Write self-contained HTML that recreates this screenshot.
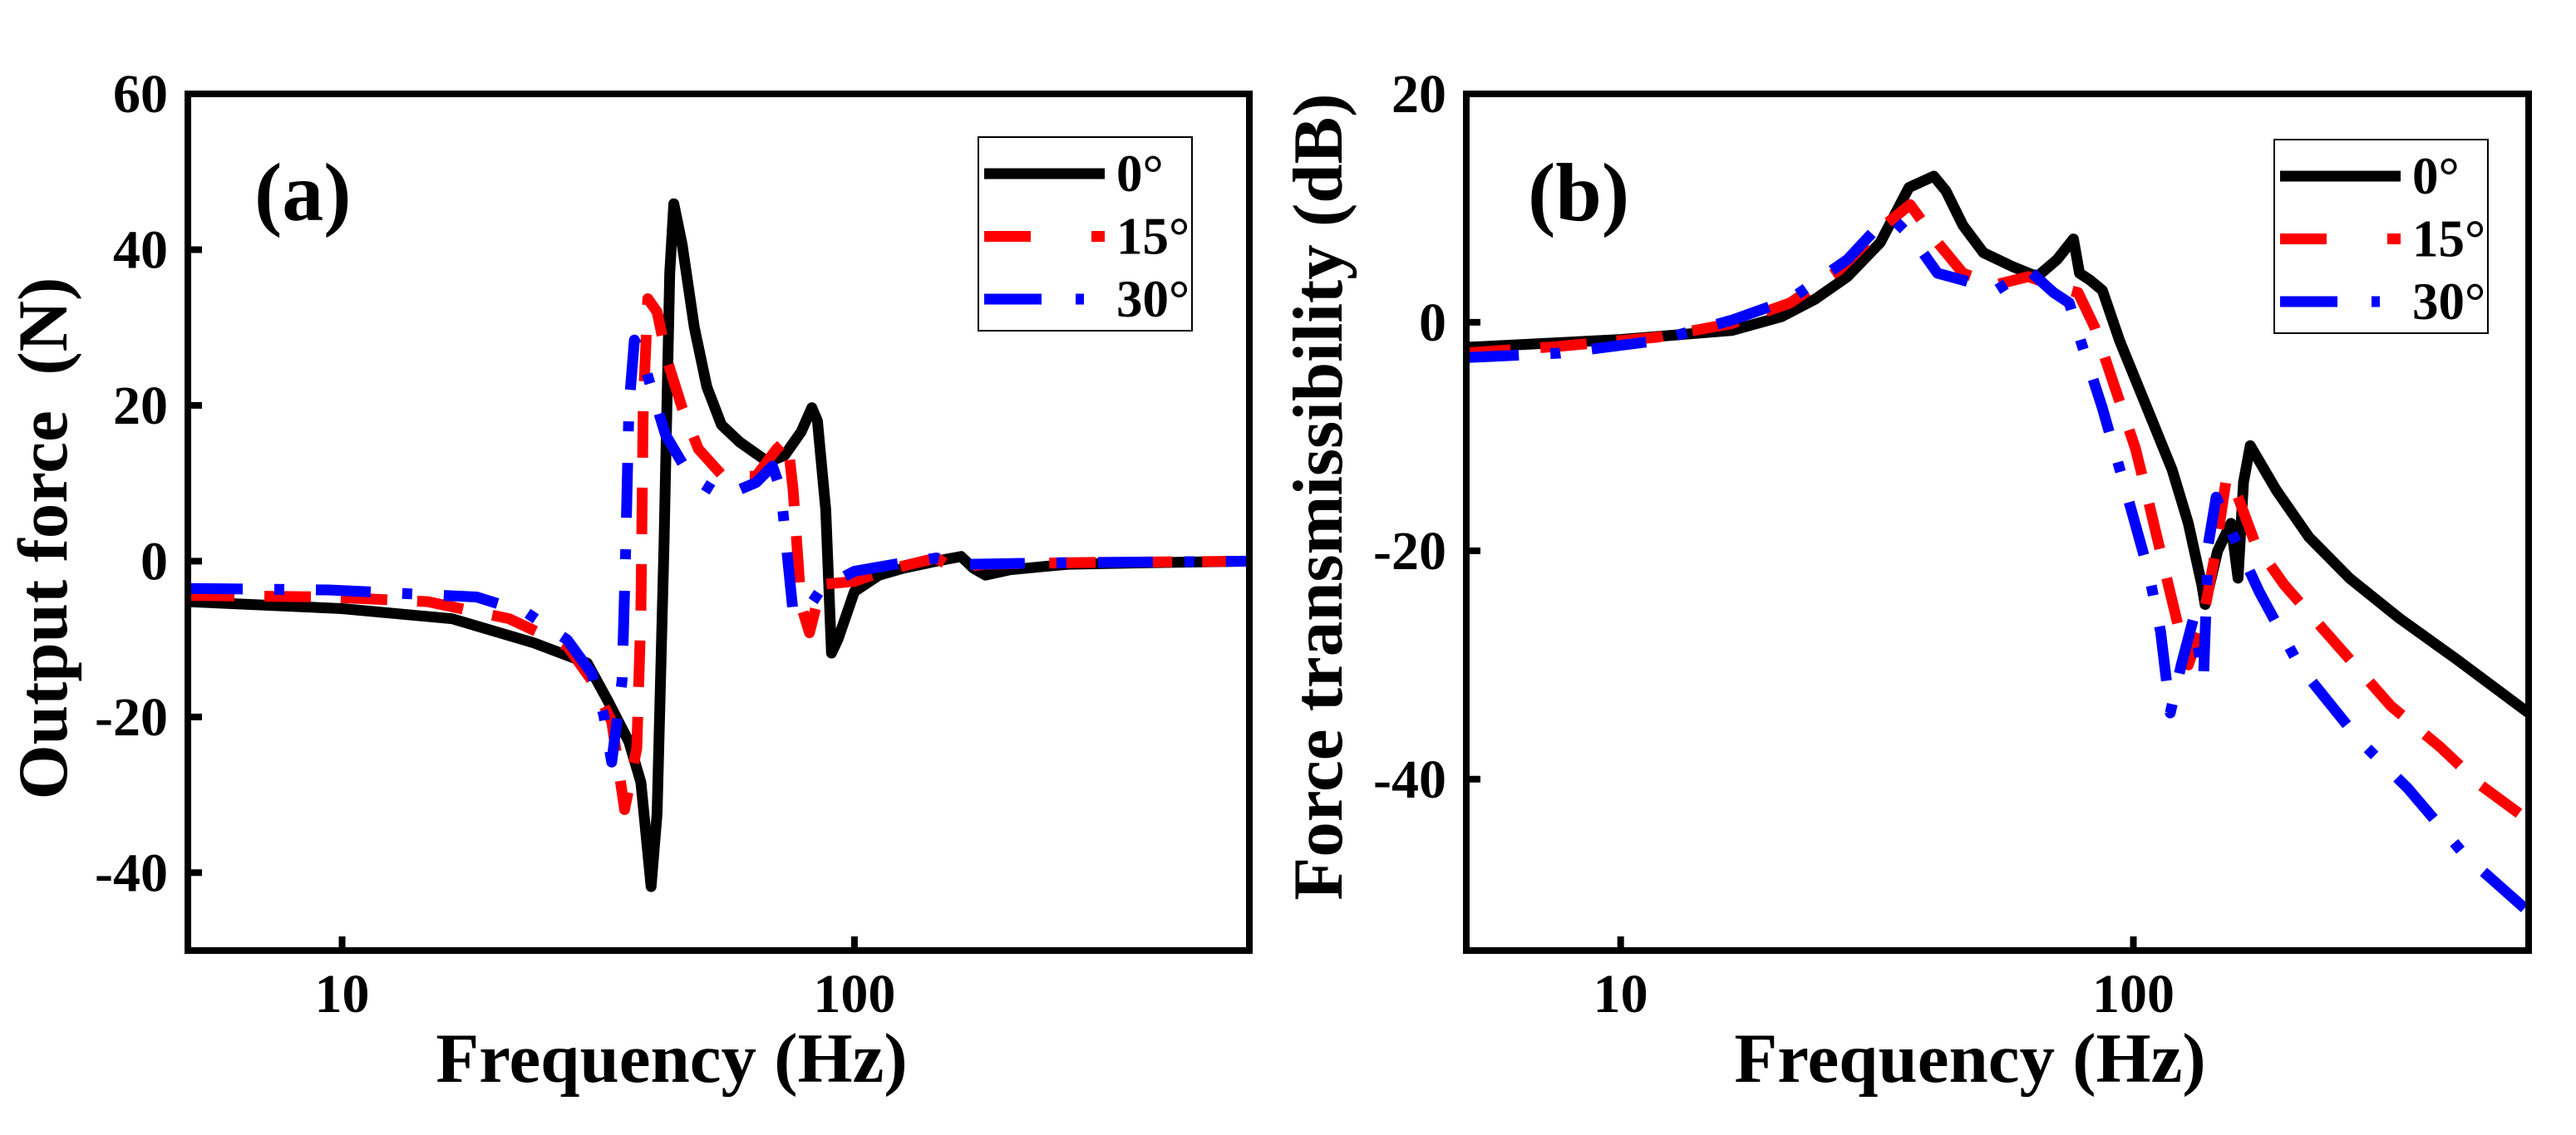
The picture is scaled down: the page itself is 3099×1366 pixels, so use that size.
<!DOCTYPE html>
<html><head><meta charset="utf-8"><style>
html,body{margin:0;padding:0;background:#fff;}
svg{display:block;}
text{font-family:"Liberation Serif","Times New Roman",serif;font-weight:bold;fill:#000;white-space:pre;}
</style></head><body>
<svg id="fig" width="3099" height="1366" viewBox="0 0 3099 1366" xmlns="http://www.w3.org/2000/svg">
<g id="panelA"></g>
<g id="panelB"></g>
</svg>
<script>
// Panel (a) data: frequency (Hz) / output force (N)
const a0F=[5,10,16.4,23.7,30.1,33,36.3,38.3,40.1,41.2,42.5,43.6,44.4,46.1,48.7,51.5,55,59.7,67.9,73.1,78.7,82.6,84.7,87.9,90.2,92.9,100,111.7,124.8,144.6,161.5,170.7,180.3,201.4,261,377,590];
const a0V=[-5.2,-6.1,-7.4,-10.5,-13.1,-17.9,-23.2,-28.4,-41.8,-32.4,2,37,45.9,40.7,30,22.4,17.5,15.3,12.7,13.6,16.6,19.7,18,6.6,-11.8,-10,-3.9,-1.8,-0.9,0,0.6,-0.9,-1.8,-1.1,-0.4,-0.2,0];
const a15F=[5,9.4,14.7,21.2,27.5,30.7,33.6,35.6,37.6,38.3,38.7,39.5,41.2,43.1,46.1,49.6,55.4,64.3,70.5,74,75.9,78.7,81.7,86.3,100,115.8,144.6,155.6,180.3,261,590];
const a15V=[-4.4,-4.6,-5.2,-7.4,-10.9,-15.3,-20.6,-31.9,-24,-6.6,19.7,33.7,32,25.8,19.7,14.4,10.9,10.9,14.4,15.7,9.2,-5.7,-9.2,-3,-2.6,-1.1,0.4,-0.9,-0.4,-0.2,0];
const a30F=[5,9.4,18.3,22.9,27.5,30.7,32.4,33.6,35.2,35.8,36.3,37.2,38.3,40.5,42.8,47.8,55.4,64.3,69.2,71.8,73.6,75.9,80.2,86.3,100,124.8,144.6,167.5,261,590];
const a30V=[-3.5,-3.7,-4.6,-6.6,-10.1,-14.4,-19.7,-25.8,-15.3,2.2,19.7,28.4,26.7,21.4,16.2,10.9,8.3,10.1,12.2,9.2,2.2,-6.6,-6.6,-3.5,-1.3,-0.2,0.4,-0.4,-0.2,0];
// Panel (b) data: frequency (Hz) / transmissibility (dB)
const b0F=[4.95,10,16.5,20.6,23.9,27.7,32.1,36.5,40.8,43.1,46.5,51,58,64.9,71,76.4,78.5,82.3,87,94,105,119,128,136,138,146,155,160,164,169,190,220,264,330,427,590];
const b0V=[-2.2,-1.5,-0.7,0.5,2,4,7,11.8,12.8,11.5,8.5,6.1,4.9,4,5.5,7.3,4.3,3.7,2.8,-1.6,-6.9,-12.9,-17.6,-23,-24.7,-20,-17.6,-22.4,-14,-10.8,-14.7,-18.8,-22.4,-25.9,-29.5,-34.2];
const b15F=[4.95,7.6,11.8,16.5,21.4,26.7,32.1,36.7,41.5,46.5,54,62.4,71,78,84,90.3,101,108,117,124,128,136,144,152,160,173,197,237,318,397,475,590];
const b15V=[-2.7,-2.1,-1.3,-0.1,1.7,4.6,8.2,10.3,7,4.3,3.3,4,3.1,2.6,-0.4,-4.6,-11.1,-16.4,-23,-27.7,-30,-26.5,-20.6,-13.5,-15.3,-19.4,-23,-27.1,-33.6,-37.2,-40.5,-43.6];
const b30F=[4.95,7.6,11.8,16.5,21.4,27.7,31.5,33.9,37.2,41.5,46.5,54,62.4,69.9,75,78.9,87,97.5,107,113,118,124,131,137,140,145,157,176,211,276,343,444,590];
const b30V=[-3.1,-2.7,-1.6,0.2,2,5.5,8.2,9.1,7.3,4.3,3.7,2.8,4.6,2.6,1.7,-1.6,-7.5,-15.3,-21.8,-27.1,-34.2,-30,-25.9,-31.3,-19.4,-15.3,-18.8,-23.6,-30.1,-36.6,-40.8,-46.7,-51.6];
const aTicks=[60,40,20,0,-20,-40];
const bTicks=[20,0,-20,-40];
const xTicks=[10,100];
const legendLabels=['0°','15°','30°'];

const NS='http://www.w3.org/2000/svg';
function mk(parent,tag,attrs,txt){const e=document.createElementNS(NS,tag);for(const k in attrs)e.setAttribute(k,attrs[k]);if(txt!==undefined)e.textContent=txt;parent.appendChild(e);return e;}
const styles=[{stroke:'#000',dash:'none'},{stroke:'#ff0000',dash:'56 36'},{stroke:'#0000ff',dash:'66 38 12 38'}];

function panel(g,cfg){
  const L=cfg.L,R=cfg.R,T=113,B=1144;
  const lx0=Math.log10(5),lx1=Math.log10(590);
  const X=f=>L+(Math.log10(f)-lx0)/(lx1-lx0)*(R-L);
  const Y=v=>T+(cfg.ymax-v)/(cfg.ymax-cfg.ymin)*(B-T);
  const defs=mk(g,'clipPath',{id:cfg.id+'clip'});mk(defs,'rect',{x:L,y:T,width:R-L,height:B-T});
  const series=cfg.series;
  series.forEach((s,i)=>{
    const pts=s[0].map((f,j)=>X(f).toFixed(1)+','+Y(s[1][j]).toFixed(1)).join(' ');
    const p=mk(g,'polyline',{points:pts,fill:'none',stroke:styles[i].stroke,'stroke-width':13,'stroke-dasharray':styles[i].dash,'stroke-linejoin':'round','clip-path':'url(#'+cfg.id+'clip)'});
    
    
  });
  const fr=mk(g,'rect',{x:L,y:T,width:R-L,height:B-T,fill:'none',stroke:'#000','stroke-width':8});
  
  
  cfg.yt.forEach(v=>{
    const y=Y(v);
    const t=mk(g,'line',{x1:L,x2:L+17,y1:y,y2:y,stroke:'#000','stroke-width':8});
    
    
    const l=mk(g,'text',{x:L-24,y:y+22,'text-anchor':'end','font-size':66},String(v));
    
    
  });
  xTicks.forEach(v=>{
    const x=X(v);
    const t=mk(g,'line',{x1:x,x2:x,y1:B,y2:B-17,stroke:'#000','stroke-width':8});
    
    
    const l=mk(g,'text',{x:x,y:1218,'text-anchor':'middle','font-size':66},String(v));
    
    
  });
  const xt=mk(g,'text',{x:cfg.xtx,y:1302,'text-anchor':'middle','font-size':85},'Frequency (Hz)');
  
  
  const yt=mk(g,'text',{x:0,y:0,'text-anchor':'middle','font-size':85,'xml:space':'preserve',transform:'translate('+cfg.ytx+','+cfg.yty+') rotate(-90)'},cfg.ytitle);
  
  
  const pl=mk(g,'text',{x:cfg.plx,y:265,'font-size':100},cfg.plabel);
  
  
  const lg=mk(g,'g',{});
  
  
  const bx=cfg.lgx,by=cfg.lgy;
  mk(lg,'rect',{x:bx,y:by,width:257,height:233,fill:'#fff',stroke:'#000','stroke-width':2});
  legendLabels.forEach((lab,i)=>{
    const y=by+44+i*75.5;
    const e=mk(lg,'g',{});
    
    
    mk(e,'line',{x1:bx+7,x2:bx+152,y1:y,y2:y,stroke:styles[i].stroke,'stroke-width':13,'stroke-dasharray':styles[i].dash==='none'?'none':(i===1?'56 73 16':'69 41 10 40')});
    mk(e,'text',{x:bx+166,y:y+21,'font-size':63},lab);
  });
}
panel(document.getElementById('panelA'),{id:'a',L:226,R:1503,ymin:-50,ymax:60,yt:aTicks,series:[[a0F,a0V],[a15F,a15V],[a30F,a30V]],xtx:808,ytx:80,yty:648,ytitle:'Output force\u00a0\u00a0(N)',plx:306,plabel:'(a)',lgx:1177,lgy:165});
panel(document.getElementById('panelB'),{id:'b',L:1764,R:3042,ymin:-55,ymax:20,yt:bTicks,series:[[b0F,b0V],[b15F,b15V],[b30F,b30V]],xtx:2370,ytx:1614,yty:598,ytitle:'Force transmissibility (dB)',plx:1838,plabel:'(b)',lgx:2736,lgy:168});
</script>
</body></html>
